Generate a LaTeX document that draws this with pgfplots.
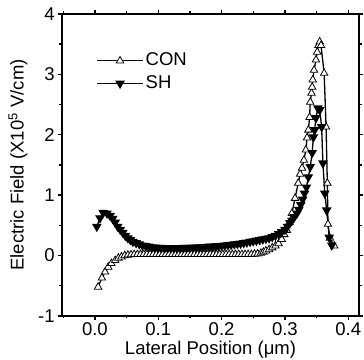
\documentclass[border=0pt]{standalone}
\usepackage{fontspec}
\setmainfont{Liberation Sans}
\usepackage{pgfplots}
\pgfplotsset{compat=1.18}
\begin{document}
\fontsize{18.5}{21}\selectfont
\begin{tikzpicture}
\begin{axis}[
  scale only axis, width=297pt, height=302pt,
  xmin=-0.052, xmax=0.417, ymin=-1, ymax=4,
  xtick={0,0.1,0.2,0.3,0.4}, minor xtick={-0.05,0.05,0.15,0.25,0.35},
  ytick={-1,0,1,2,3,4}, minor ytick={-0.5,0.5,1.5,2.5,3.5},
  xticklabel style={yshift=4pt, /pgf/number format/.cd, fixed, fixed zerofill, precision=1},
  yticklabel style={xshift=3pt},
  /pgf/number format/assume math mode=true,
  tick align=outside, major tick length=4pt, minor tick length=2.5pt,
  every tick/.style={line width=1.4pt, black},
  axis line style={line width=2.5pt},
  xlabel={Lateral Position (μm)}, ylabel={Electric Field (X10\textsuperscript{5} V/cm)},
  xlabel style={at={(axis description cs:0.5,0)}, yshift=-34pt, anchor=center, inner sep=0pt},
  ylabel style={at={(axis description cs:0,0.5)}, yshift=44pt, anchor=center},
  tick label style={font=\fontsize{18.5}{21}\selectfont},
  label style={font=\fontsize{18.5}{21}\selectfont},
  legend style={draw=none, fill=none, at={(rel axis cs:0.105,0.885)}, anchor=north west, font=\fontsize{18.5}{21}\selectfont, row sep=3pt},
  legend cell align=left,
  legend image code/.code={\draw[#1, mark repeat=2, mark phase=2] plot coordinates {(0pt,0pt) (23pt,0pt) (46pt,0pt)};},
]
\addplot[black, line width=1.3pt, mark=triangle*, mark size=4.3pt, mark options={fill=white, line width=0.8pt}] coordinates {
(0.005,-0.52) (0.011,-0.37) (0.016,-0.27) (0.021,-0.19) (0.026,-0.13) (0.032,-0.08) (0.037,-0.04) (0.042,-0.02) (0.047,0.00) (0.052,0.01) (0.057,0.015) (0.062,0.02) (0.067,0.02) (0.072,0.02) (0.077,0.02) (0.082,0.02) (0.087,0.02) (0.092,0.02) (0.097,0.02) (0.102,0.02) (0.107,0.02) (0.112,0.02) (0.117,0.02) (0.122,0.02) (0.127,0.02) (0.132,0.02) (0.137,0.02) (0.142,0.02) (0.147,0.02) (0.152,0.02) (0.157,0.02) (0.162,0.02) (0.167,0.02) (0.172,0.02) (0.177,0.02) (0.182,0.02) (0.187,0.02) (0.192,0.02) (0.197,0.02) (0.202,0.02) (0.207,0.02) (0.212,0.02) (0.217,0.02) (0.222,0.02) (0.227,0.02) (0.232,0.02) (0.237,0.02) (0.242,0.02) (0.247,0.02) (0.252,0.025) (0.257,0.03) (0.262,0.04) (0.266,0.06) (0.270,0.08) (0.275,0.10) (0.280,0.13) (0.285,0.16) (0.290,0.20) (0.295,0.27) (0.299,0.35) (0.303,0.42) (0.307,0.55) (0.311,0.70) (0.316,0.95) (0.321,1.20) (0.324,1.35) (0.327,1.45) (0.330,1.58) (0.333,1.75) (0.335,1.95) (0.337,2.08) (0.339,2.29) (0.340,2.54) (0.342,2.69) (0.343,2.79) (0.344,2.91) (0.346,3.07) (0.349,3.24) (0.351,3.37) (0.353,3.48) (0.355,3.54) (0.357,3.48) (0.362,3.02) (0.365,2.13) (0.367,1.20) (0.368,0.52) (0.371,0.29) (0.378,0.16)
};
\addlegendentry{CON}
\addplot[black, line width=1.3pt, mark=triangle*, mark size=4.3pt, mark options={fill=black, rotate=180}] coordinates {
(0.003,0.48) (0.008,0.62) (0.013,0.71) (0.019,0.70) (0.024,0.66) (0.028,0.61) (0.032,0.55) (0.036,0.48) (0.040,0.43) (0.044,0.38) (0.048,0.33) (0.052,0.29) (0.056,0.26) (0.060,0.23) (0.065,0.21) (0.070,0.19) (0.075,0.17) (0.080,0.16) (0.085,0.15) (0.090,0.14) (0.095,0.135) (0.100,0.13) (0.105,0.13) (0.110,0.125) (0.115,0.125) (0.120,0.125) (0.125,0.125) (0.130,0.125) (0.135,0.125) (0.140,0.13) (0.145,0.13) (0.150,0.13) (0.155,0.135) (0.160,0.135) (0.165,0.14) (0.170,0.14) (0.175,0.145) (0.180,0.15) (0.185,0.15) (0.190,0.155) (0.195,0.16) (0.200,0.165) (0.205,0.17) (0.210,0.175) (0.215,0.18) (0.220,0.19) (0.225,0.195) (0.230,0.20) (0.235,0.21) (0.240,0.22) (0.245,0.23) (0.250,0.24) (0.255,0.25) (0.260,0.26) (0.265,0.27) (0.270,0.28) (0.275,0.29) (0.280,0.31) (0.285,0.33) (0.290,0.36) (0.295,0.39) (0.300,0.43) (0.304,0.48) (0.308,0.54) (0.311,0.58) (0.315,0.64) (0.319,0.70) (0.322,0.76) (0.325,0.84) (0.328,0.93) (0.331,1.03) (0.334,1.13) (0.337,1.30) (0.340,1.47) (0.343,1.70) (0.345,1.96) (0.347,2.08) (0.349,2.28) (0.352,2.44) (0.355,2.41) (0.358,2.13) (0.360,1.53) (0.363,1.03) (0.366,0.75) (0.370,0.30) (0.374,0.17)
};
\addlegendentry{SH}
\end{axis}
\pgfresetboundingbox
\useasboundingbox ([shift={(-62pt,-44pt)}]current axis.south west) rectangle ([shift={(5pt,14pt)}]current axis.north east);
\end{tikzpicture}
\end{document}
